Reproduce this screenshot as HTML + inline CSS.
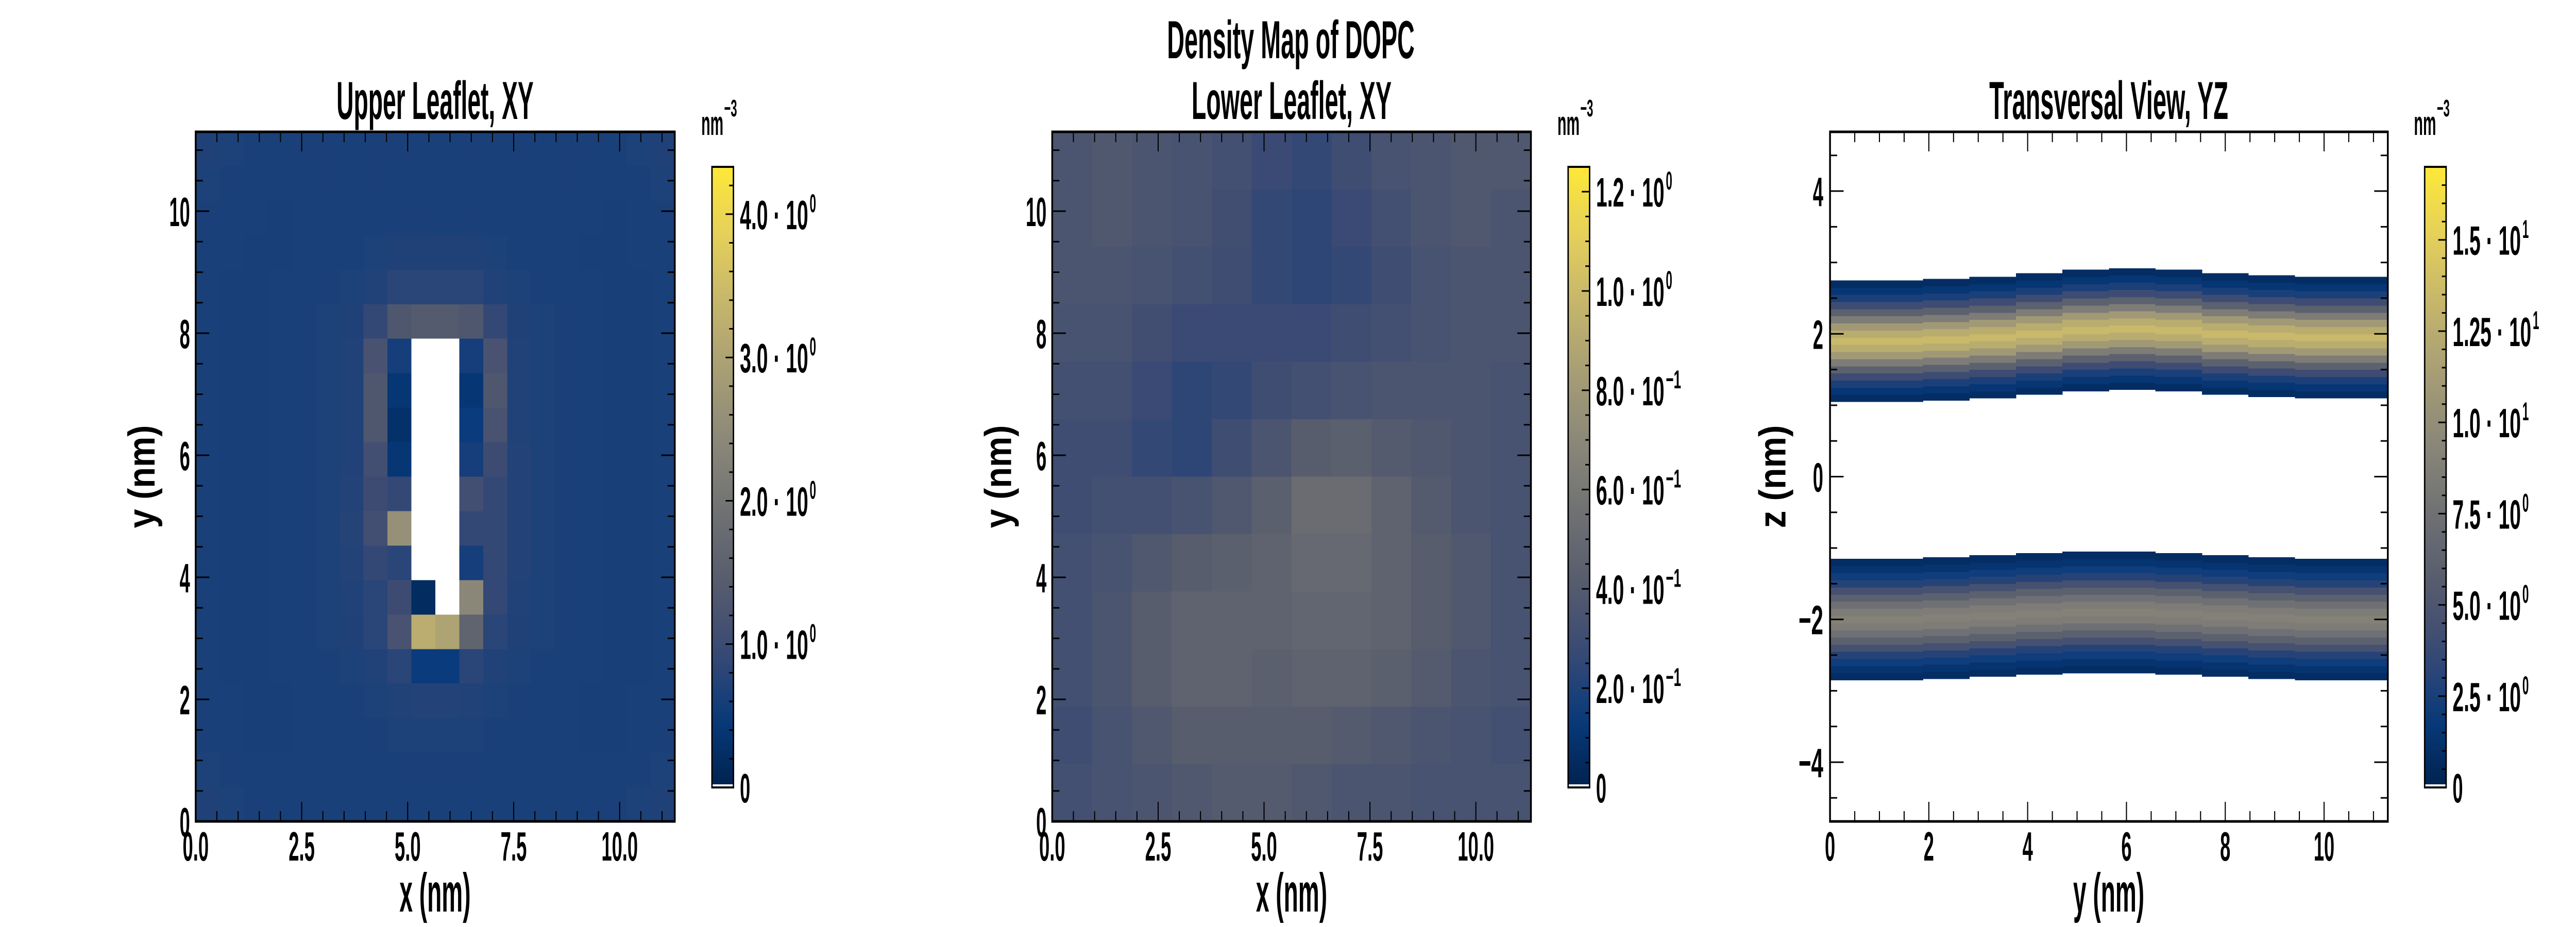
<!DOCTYPE html>
<html><head><meta charset="utf-8"><title>Density Map of DOPC</title>
<style>
html,body{margin:0;padding:0;background:#fff;width:100%;height:100%;overflow:hidden;}
svg{display:block;width:100vw;height:100vh;}
text{font-family:"Liberation Sans Narrow","Liberation Sans",sans-serif;font-weight:bold;fill:#000;}
</style></head>
<body>
<svg id="fig" xmlns="http://www.w3.org/2000/svg" viewBox="0 0 7200 1800" preserveAspectRatio="none"></svg>
<script>
// ---------- DATA ----------
const p1Extent = [11.3, 11.3];
const p1Max = 4.33;
const p1Grid = [
[.70,.68,.66,.65,.66,.66,.65,.66,.66,.65,.65,.66,.65,.66,.65,.66,.66,.65,.68,.70],
[.68,.66,.65,.65,.65,.66,.65,.66,.65,.65,.65,.65,.66,.65,.65,.66,.65,.65,.66,.68],
[.66,.65,.65,.64,.65,.65,.66,.65,.66,.66,.65,.66,.65,.65,.66,.65,.65,.64,.65,.66],
[.65,.65,.64,.64,.65,.65,.65,.68,.70,.70,.70,.70,.68,.65,.65,.65,.64,.64,.65,.65],
[.65,.64,.64,.65,.65,.66,.68,.72,.80,.80,.80,.80,.72,.68,.66,.65,.65,.64,.64,.65],
[.65,.64,.64,.65,.66,.68,.70,.90,1.3,1.4,1.4,1.3,.90,.70,.68,.66,.65,.64,.64,.65],
[.65,.64,.64,.65,.66,.68,.72,1.2,.60,0,0,.60,1.2,.72,.68,.66,.65,.64,.64,.65],
[.65,.64,.64,.65,.66,.68,.72,1.3,.40,0,0,.40,1.3,.72,.68,.66,.65,.64,.64,.65],
[.65,.64,.64,.65,.66,.68,.72,1.3,.30,0,0,.50,1.2,.72,.68,.66,.65,.64,.64,.65],
[.65,.64,.64,.65,.66,.68,.72,1.1,.40,0,0,.60,1.0,.74,.68,.66,.65,.64,.64,.65],
[.65,.64,.64,.65,.66,.68,.74,1.0,.90,0,0,1.1,.90,.74,.68,.66,.65,.64,.64,.65],
[.65,.64,.64,.65,.66,.68,.76,1.1,2.6,0,0,.90,.90,.74,.68,.66,.65,.64,.64,.65],
[.65,.64,.64,.65,.66,.68,.74,.90,.80,0,0,.60,.90,.74,.68,.66,.65,.64,.64,.65],
[.65,.64,.64,.65,.66,.68,.72,.80,1.0,.20,0,2.4,.90,.72,.68,.66,.65,.64,.64,.65],
[.65,.64,.64,.65,.66,.68,.70,.80,1.2,3.2,3.0,1.6,.80,.70,.68,.66,.65,.64,.64,.65],
[.65,.64,.64,.65,.65,.66,.68,.72,.80,.50,.50,.80,.72,.68,.66,.65,.65,.64,.64,.65],
[.65,.65,.64,.64,.65,.65,.66,.68,.72,.74,.74,.72,.68,.66,.65,.65,.64,.64,.65,.65],
[.66,.65,.64,.64,.65,.65,.65,.66,.68,.68,.68,.68,.66,.65,.65,.65,.64,.64,.65,.66],
[.68,.66,.65,.65,.65,.65,.65,.65,.66,.66,.66,.66,.65,.65,.65,.65,.65,.65,.66,.68],
[.70,.68,.66,.65,.65,.65,.65,.65,.65,.65,.65,.65,.65,.65,.65,.65,.65,.66,.68,.70]
];
const p2Max = 1.25;
const p2Grid = [
[.36,.38,.36,.34,.32,.28,.26,.30,.34,.36,.38,.38],
[.36,.38,.36,.34,.31,.26,.24,.28,.32,.36,.38,.36],
[.36,.36,.34,.32,.30,.26,.24,.26,.30,.34,.36,.36],
[.34,.34,.31,.28,.28,.28,.28,.30,.32,.34,.36,.36],
[.32,.32,.28,.24,.26,.30,.32,.34,.36,.36,.36,.34],
[.30,.30,.26,.24,.30,.36,.42,.44,.40,.38,.36,.34],
[.30,.32,.32,.34,.38,.44,.52,.52,.46,.40,.36,.34],
[.32,.34,.38,.42,.44,.46,.50,.50,.46,.42,.38,.34],
[.32,.36,.42,.46,.46,.46,.48,.48,.46,.42,.38,.34],
[.32,.36,.42,.46,.46,.44,.46,.46,.44,.40,.36,.34],
[.30,.34,.38,.42,.42,.42,.42,.40,.38,.36,.34,.32],
[.32,.34,.36,.38,.40,.40,.38,.36,.36,.34,.34,.34]
];
const p3Max = 17.0;
const p3Offsets = [-0.9,-0.8,-0.7,-0.6,-0.5,-0.4,-0.3,-0.2,-0.1,0,0.1,0.2,0.3,0.4,0.5,0.6,0.7,0.8,0.9];
const p3UpperProfile = [0,0.9,1.6,2.6,4,6,8.5,11,12.5,13.5,12.5,11,8.5,6,4,2.6,1.6,0.9,0];
const p3LowerProfile = [0,0.9,1.4,2.2,3,4.5,6,7.5,8.5,9,8.5,7.5,6,4.5,3,2.2,1.4,0.9,0];
const p3UpperCenters = [1.90,1.90,1.92,1.95,2.00,2.05,2.07,2.05,2.00,1.97,1.95,1.95];
const p3LowerCenters = [-2.00,-2.00,-1.98,-1.95,-1.92,-1.90,-1.90,-1.92,-1.95,-1.98,-2.00,-2.00];
const xyTicksMajor = [0,2.5,5,7.5,10];
const xyTickLabels = ["0.0","2.5","5.0","7.5","10.0"];
const xyYTicks = [0,2,4,6,8,10];
const xyYTickLabels = ["0","2","4","6","8","10"];
const p3XTicks = [0,2,4,6,8,10];
const p3XLabels = ["0","2","4","6","8","10"];
const p3YTicks = [-4,-2,0,2,4];
const p3YLabels = ["\u22124","\u22122","0","2","4"];
const cb1Ticks = [1,2,3,4]; const cb1Mant = ["1.0","2.0","3.0","4.0"]; const cb1Exp = ["0","0","0","0"];
const cb2Ticks = [0.2,0.4,0.6,0.8,1.0,1.2]; const cb2Mant = ["2.0","4.0","6.0","8.0","1.0","1.2"]; const cb2Exp = ["\u22121","\u22121","\u22121","\u22121","0","0"];
const cb3Ticks = [2.5,5,7.5,10,12.5,15]; const cb3Mant = ["2.5","5.0","7.5","1.0","1.25","1.5"]; const cb3Exp = ["0","0","0","1","1","1"];

// ---------- HELPERS ----------
const NS = "http://www.w3.org/2000/svg";
const svg = document.getElementById('fig');
const civ = ["#00224e","#083a7c","#3b4a74","#575d6d","#707173","#8a8779","#a69d75","#c4b56c","#e4cf5b","#fee838"].map(h=>[parseInt(h.substr(1,2),16),parseInt(h.substr(3,2),16),parseInt(h.substr(5,2),16)]);
function cmap(t){
  t=Math.max(0,Math.min(1,t)); const f=t*(civ.length-1); const i=Math.min(civ.length-2,Math.floor(f)); const u=f-i;
  const c=civ[i].map((v,k)=>Math.round(v+(civ[i+1][k]-v)*u)); return `rgb(${c[0]},${c[1]},${c[2]})`;
}
function el(tag, attrs, parent){
  const e=document.createElementNS(NS,tag);
  for(const k in attrs) e.setAttribute(k,attrs[k]);
  (parent||svg).appendChild(e); return e;
}
const CW={'0':29,'1':29,'2':29,'3':29,'4':29,'5':29,'6':29,'7':29,'8':29,'9':29,'.':15,'\u2212':40,' ':18,'\u00b7':16};
function tw(s){let w=0;for(const c of s)w+=(CW[c]||29);return w;}
function txt(s,x,y,size,anchor,len,parent){
  const t=el('text',{x:x,y:y,'font-size':size,'text-anchor':anchor||'start'},parent);
  if(len){t.setAttribute('textLength',len);t.setAttribute('lengthAdjust','spacingAndGlyphs');}
  t.textContent=s; return t;
}
const TOP=256, BOT=1595, CBT=324, CBB=1529;

function axes(name, x0, x1, xmin, xmax, ymin, ymax){
  const sx=v=>x0+(v-xmin)/(xmax-xmin)*(x1-x0);
  const sy=v=>BOT-(v-ymin)/(ymax-ymin)*(BOT-TOP);
  return {sx,sy,x0,x1};
}
function drawFrame(g, ax, xMajor, xMinorStep, xmin, xmax, yMajor, yMinorStep, ymin, ymax){
  const {sx,sy,x0,x1}=ax;
  for(let v=xmin; v<=xmax+1e-9; v+=xMinorStep){
    const major=xMajor.some(m=>Math.abs(m-v)<1e-6); const L=major?38:20;
    const x=sx(v);
    const t1=el('line',{x1:x,y1:BOT,x2:x,y2:BOT-L,stroke:'#000','stroke-width':3},g);
     
    const t2=el('line',{x1:x,y1:TOP,x2:x,y2:TOP+L,stroke:'#000','stroke-width':3},g);
     
  }
  const ystart=Math.ceil(ymin/yMinorStep-1e-9)*yMinorStep;
  for(let v=ystart; v<=ymax+1e-9; v+=yMinorStep){
    const major=yMajor.some(m=>Math.abs(m-v)<1e-6); const L=major?38:20;
    const y=sy(v);
    const t1=el('line',{x1:x0,y1:y,x2:x0+L,y2:y,stroke:'#000','stroke-width':3},g);
     
    const t2=el('line',{x1:x1,y1:y,x2:x1-L,y2:y,stroke:'#000','stroke-width':3},g);
     
  }
  const fr=el('rect',{x:x0,y:TOP,width:x1-x0,height:BOT-TOP,fill:'none',stroke:'#000','stroke-width':5},g);
   
}
function tickLabels(g, ax, xt, xl, yt, yl, yRight){
  xt.forEach((v,i)=>{
    const t=txt(xl[i], ax.sx(v), 1671, 80, 'middle', tw(xl[i]), g);
     
  });
  yt.forEach((v,i)=>{
    const t=txt(yl[i], yRight, ax.sy(v)+29, 80, 'end', tw(yl[i]), g);
     
  });
}
function colorbar(name, cx, vmax, ticks, mant, exps, minorStep){
  const g=el('g',{});
   
  const defs=el('defs',{},g);
  const grad=el('linearGradient',{id:name+'-grad',x1:0,y1:1,x2:0,y2:0},defs);
  for(let i=0;i<=20;i++){ el('stop',{offset:(i/20),'stop-color':cmap(i/20)},grad); }
  const w=60, sy=v=>CBB-v/vmax*(CBB-CBT);
  const r=el('rect',{x:cx,y:CBT,width:w,height:CBB-CBT,fill:`url(#${name}-grad)`},g);
   
  const wr=el('rect',{x:cx,y:CBB-6,width:w,height:6,fill:'#fff'},g);
   
  for(let v=minorStep; v<vmax; v+=minorStep){
    const major=ticks.some(m=>Math.abs(m-v)<1e-6);
    const ln=el('line',{x1:cx+w,y1:sy(v),x2:cx+w-(major?22:12),y2:sy(v),stroke:'#000','stroke-width':3},g);
     
  }
  const fr=el('rect',{x:cx,y:CBT,width:w,height:CBB-CBT,fill:'none',stroke:'#000','stroke-width':4},g);
   
  const z=txt('0',cx+w+18,CBB+29,80,'start',29,g);
   
  ticks.forEach((v,i)=>{
    const s=mant[i]+' \u00b7 10';
    const t=txt(s,cx+w+18,sy(v)+29,80,'start',tw(s)+8,g);
     
    const e=txt(exps[i],cx+w+18+tw(s)+12,sy(v)-4,50,'start',tw(exps[i])*0.62,g);
     
  });
  const u=txt('nm',cx-30,262,66,'start',62,g);
   
  const ue=txt('\u22123',cx+34,226,46,'start',36,g);
   
}
function gridHeat(g, ax, grid, ext, vmax){
  const rows=grid.length, cols=grid[0].length;
  const dx=ext[0]/cols, dy=ext[1]/rows;
  grid.forEach((row,r)=>{
    row.forEach((v,c)=>{
      const x=ax.sx(c*dx), x2=ax.sx((c+1)*dx);
      const yTop=ax.sy(ext[1]-r*dy), yB=ax.sy(ext[1]-(r+1)*dy);
      const cell=el('rect',{x:x,y:yTop,width:x2-x+0.6,height:yB-yTop+0.6,fill:v<=0?'#ffffff':cmap(v/vmax),'shape-rendering':'crispEdges'},g);
       
    });
  });
}
function axisLabels(g, xc, xlab, xw, ylabX, ylab, yw){
  const xl=txt(xlab,xc,1770,106,'middle',xw,g);
   
  const yl=txt(ylab,0,0,106,'middle',yw,g);
  yl.setAttribute('transform',`translate(${ylabX},${(TOP+BOT)/2}) rotate(-90)`);
   
}

// ---------- SUPTITLE ----------
const st=txt('Density Map of DOPC',3608,113,104,'middle',692);
 

// ---------- PANEL 1 ----------
{
  const g=el('g',{});  
  const ax=axes('p1',547,1886,0,11.3,0,11.3);
  gridHeat(g,ax,p1Grid,p1Extent,p1Max);
  drawFrame(g,ax,xyTicksMajor,0.5,0,11.3,xyYTicks,0.5,0,11.3);
  tickLabels(g,ax,xyTicksMajor,xyTickLabels,xyYTicks,xyYTickLabels,531);
  const t=txt('Upper Leaflet, XY',1216,231,104,'middle',551,g);
   
  axisLabels(g,1216,'x (nm)',199,432,'y (nm)',200);
  colorbar('colorbar-upper',1990,p1Max,cb1Ticks,cb1Mant,cb1Exp,0.2);
}
// ---------- PANEL 2 ----------
{
  const g=el('g',{});  
  const ax=axes('p2',2941,4279,0,11.3,0,11.3);
  gridHeat(g,ax,p2Grid,p1Extent,p2Max);
  drawFrame(g,ax,xyTicksMajor,0.5,0,11.3,xyYTicks,0.5,0,11.3);
  tickLabels(g,ax,xyTicksMajor,xyTickLabels,xyYTicks,xyYTickLabels,2925);
  const t=txt('Lower Leaflet, XY',3610,231,104,'middle',559,g);
   
  axisLabels(g,3610,'x (nm)',199,2826,'y (nm)',200);
  colorbar('colorbar-lower',4383,p2Max,cb2Ticks,cb2Mant,cb2Exp,0.05);
}
// ---------- PANEL 3 ----------
{
  const g=el('g',{});  
  const ax=axes('p3',5115,6674,0,11.29,-4.83,4.83);
  const cols=p3UpperCenters.length, dy=11.29/cols, dz=0.1;
  [[p3UpperProfile,p3UpperCenters],[p3LowerProfile,p3LowerCenters]].forEach(([prof,cent])=>{
    cent.forEach((zc,c)=>{
      const x=ax.sx(c*dy), x2=ax.sx((c+1)*dy);
      p3Offsets.forEach((o,k)=>{
        if(prof[k]<=0) return;
        const z=zc+o;
        const y1=ax.sy(z+dz/2), y2=ax.sy(z-dz/2);
        const cell=el('rect',{x:x,y:y1,width:x2-x+0.6,height:y2-y1+0.6,fill:cmap(prof[k]/p3Max),'shape-rendering':'crispEdges'},g);
         
      });
    });
  });
  drawFrame(g,ax,p3XTicks,0.5,0,11.29,p3YTicks,0.5,-4.83,4.83);
  tickLabels(g,ax,p3XTicks,p3XLabels,p3YTicks,p3YLabels,5096);
  const t=txt('Transversal View, YZ',5894,231,104,'middle',668,g);
   
  axisLabels(g,5894,'y (nm)',199,4990,'z (nm)',200);
  colorbar('colorbar-transversal',6777,p3Max,cb3Ticks,cb3Mant,cb3Exp,0.5);
}
</script>
</body></html>
